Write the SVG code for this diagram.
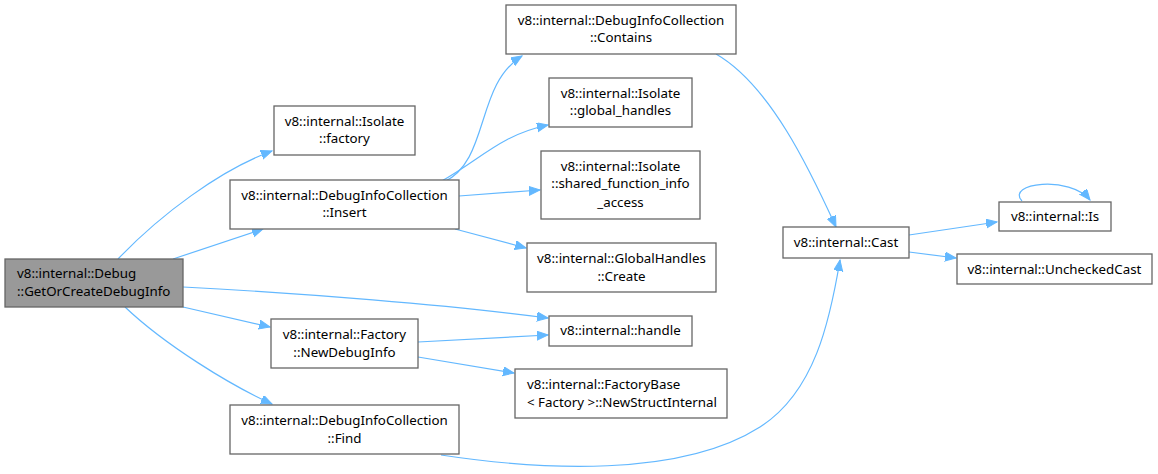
<svg xmlns="http://www.w3.org/2000/svg" width="1158" height="474" viewBox="0 0 1158 474">
<defs>
<style>
.n rect{fill:#fff;stroke:#666;stroke-width:1.3}
.n.main rect{fill:#999}
text{font-family:"Noto Sans","DejaVu Sans",sans-serif;font-size:13.33px;fill:#000}
.c{text-anchor:middle}
.e path{fill:none;stroke:#63b8ff;stroke-width:1.2}
</style>
<marker id="a" markerWidth="12" markerHeight="10" refX="11" refY="4.5" orient="auto" markerUnits="userSpaceOnUse"><path d="M0,0 L11,4.5 L0,9 Z" fill="#63b8ff" stroke="#63b8ff"/></marker>
</defs>
<rect width="1158" height="474" fill="#fff"/>
<g class="e">
<path d="M118,259 C160,215 220,170 272,151" marker-end="url(#a)"/>
<path d="M173,259 L263,229" marker-end="url(#a)"/>
<path d="M183,287 C300,293 450,305 548,318" marker-end="url(#a)"/>
<path d="M183,307 L270,327" marker-end="url(#a)"/>
<path d="M125,307 C165,345 230,385 272,404" marker-end="url(#a)"/>
<path d="M444,182 C490,160 475,85 522,56" marker-end="url(#a)"/>
<path d="M440,182 C480,160 500,135 548,125" marker-end="url(#a)"/>
<path d="M459,196 L540,190" marker-end="url(#a)"/>
<path d="M455,229 L526,248" marker-end="url(#a)"/>
<path d="M716,54 C770,85 810,170 836,227" marker-end="url(#a)"/>
<path d="M441,455 C540,470 680,478 760,427 C815,392 830,320 840,260" marker-end="url(#a)"/>
<path d="M418,342 L548,335" marker-end="url(#a)"/>
<path d="M418,357 L514,373" marker-end="url(#a)"/>
<path d="M909,235 L997,222" marker-end="url(#a)"/>
<path d="M909,252 L956,258" marker-end="url(#a)"/>
<path d="M1022,201 C1005,183 1070,175 1090,200" marker-end="url(#a)"/>
</g>
<g id="n1" class="n main"><rect x="5" y="259" width="178" height="48"/><text x="17" y="278">v8::internal::Debug</text><text x="17" y="296">::GetOrCreateDebugInfo</text></g>
<g id="n2" class="n"><rect x="274" y="106" width="141" height="49"/><text class="c" x="344.5" y="126">v8::internal::Isolate</text><text class="c" x="344.5" y="143">::factory</text></g>
<g id="n3" class="n"><rect x="230" y="180" width="229" height="49"/><text class="c" x="344.5" y="200">v8::internal::DebugInfoCollection</text><text class="c" x="344.5" y="217">::Insert</text></g>
<g id="n4" class="n"><rect x="506" y="5" width="230" height="49"/><text class="c" x="621" y="25">v8::internal::DebugInfoCollection</text><text class="c" x="621" y="42">::Contains</text></g>
<g id="n5" class="n"><rect x="549" y="78" width="143" height="49"/><text class="c" x="620.5" y="98">v8::internal::Isolate</text><text class="c" x="620.5" y="115">::global_handles</text></g>
<g id="n6" class="n"><rect x="541" y="151" width="159" height="68"/><text class="c" x="620.5" y="171">v8::internal::Isolate</text><text class="c" x="620.5" y="188">::shared_function_info</text><text class="c" x="620.5" y="207">_access</text></g>
<g id="n7" class="n"><rect x="527" y="243" width="189" height="49"/><text class="c" x="621.5" y="263">v8::internal::GlobalHandles</text><text class="c" x="621.5" y="281">::Create</text></g>
<g id="n8" class="n"><rect x="549" y="316" width="143" height="30"/><text class="c" x="620.5" y="335">v8::internal::handle</text></g>
<g id="n9" class="n"><rect x="271" y="319" width="147" height="49"/><text class="c" x="344.5" y="339">v8::internal::Factory</text><text class="c" x="344.5" y="357">::NewDebugInfo</text></g>
<g id="n10" class="n"><rect x="515" y="369" width="212" height="49"/><text x="527" y="389">v8::internal::FactoryBase</text><text x="527" y="407">&lt; Factory &gt;::NewStructInternal</text></g>
<g id="n11" class="n"><rect x="230" y="405" width="229" height="49"/><text class="c" x="344.5" y="425">v8::internal::DebugInfoCollection</text><text class="c" x="344.5" y="443">::Find</text></g>
<g id="n12" class="n"><rect x="783" y="227" width="126" height="31"/><text class="c" x="846" y="247">v8::internal::Cast</text></g>
<g id="n13" class="n"><rect x="999" y="202" width="112" height="29"/><text class="c" x="1055" y="221">v8::internal::Is</text></g>
<g id="n14" class="n"><rect x="957" y="254" width="195" height="30"/><text class="c" x="1054.5" y="274">v8::internal::UncheckedCast</text></g>
</svg>
